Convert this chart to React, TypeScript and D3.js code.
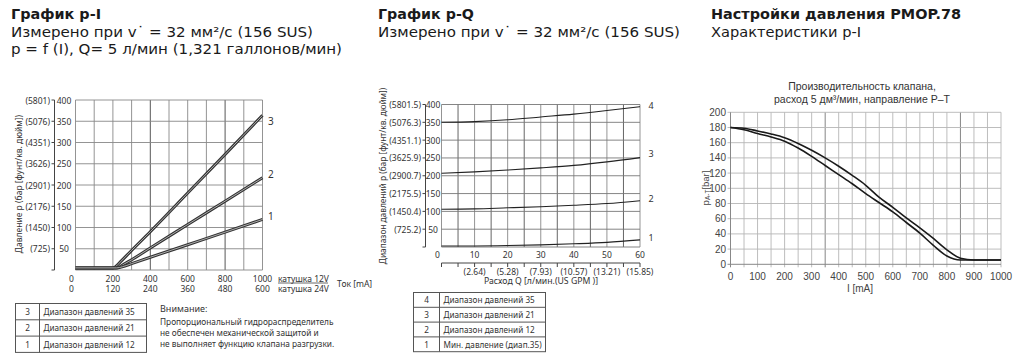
import * as d3 from 'd3';

// ---- chart 1: p-I (pressure vs current)
const piTicksX = [0, 200, 400, 600, 800, 1000];
const piTicksX24 = [0, 120, 240, 360, 480, 600];
const piTicksY = [50, 100, 150, 200, 250, 300, 350, 400];
const piTicksPsi = ['(725)', '(1450)', '(2176)', '(2901)', '(3626)', '(4351)', '(5076)', '(5801)'];
const piRange35: [number, number][] = [[0, 5], [200, 5], [215, 8], [240, 19], [300, 46], [400, 90], [600, 181], [800, 272], [1000, 364]];
const piRange21: [number, number][] = [[0, 5], [215, 5], [235, 7], [260, 14], [300, 24], [400, 52], [600, 107], [800, 162], [1000, 217]];
const piRange12: [number, number][] = [[0, 5], [220, 5], [250, 7.5], [300, 15], [400, 30], [600, 59.5], [800, 89], [1000, 119]];
const piLegend = [
	['3', 'Диапазон давлений 35'],
	['2', 'Диапазон давлений 21'],
	['1', 'Диапазон давлений 12'],
];

// ---- chart 2: p-Q (pressure vs flow)
const pqTicksX = [0, 10, 20, 30, 40, 50, 60];
const pqTicksGpm = ['(2.64)', '(5.28)', '(7.93)', '(10.57)', '(13.21)', '(15.85)'];
const pqTicksY = [50, 100, 150, 200, 250, 300, 350, 400];
const pqTicksPsi = ['(725.2)', '(1450.4)', '(2175.5)', '(2900.7)', '(3625.9)', '(4351.1)', '(5076.3)', '(5801.5)'];
const pqFlow = [0, 10, 20, 30, 40, 50, 60];
const pqCurve4 = [350, 352, 357, 365, 373, 383, 394];
const pqCurve3 = [207, 211, 216, 222, 229, 239, 251];
const pqCurve2 = [106, 107, 110, 113, 117, 122, 130];
const pqCurve1 = [3, 3, 4, 6, 9, 13, 20];
const pqLegend = [
	['4', 'Диапазон давлений 35'],
	['3', 'Диапазон давлений 21'],
	['2', 'Диапазон давлений 12'],
	['1', 'Мин. давление (диап.35)'],
];

// ---- chart 3: PMOP.78 p-I
const pmCurrent = [0, 50, 100, 150, 200, 250, 300, 350, 400, 450, 500, 550, 600, 650, 700, 750, 800, 850, 900, 950, 1000];
const pmUpper = [180, 179, 175.5, 171.5, 166.5, 159, 150, 140, 129, 117, 104, 88, 75, 61, 48, 34, 19, 8, 5.7, 5.7, 5.7];
const pmLower = [180, 177, 172, 167.5, 162, 153, 142, 130, 118, 106, 93, 81, 69, 55, 41, 25, 11, 5.7, 5.7, 5.7, 5.7];
const pmTicksX = [0, 100, 200, 300, 400, 500, 600, 700, 800, 900, 1000];
const pmTicksY = [0, 20, 40, 60, 80, 100, 120, 140, 160, 180, 200];

const labelFont = '"Noto Sans", sans-serif';
const headFont = '"DejaVu Sans", sans-serif';
const arialFont = '"Liberation Sans", Arial, sans-serif';

// header: [text, width in px]
function Header({ x, lines }: { x: number; lines: [string, number][] }) {
	return (
		<g fontFamily={headFont} fill="#1a1a1a">
			<text x={x} y={19} fontSize={14.5} fontWeight={700} textLength={lines[0][1]} lengthAdjust="spacingAndGlyphs">{lines[0][0]}</text>
			{lines.slice(1).map((t, i) => (
				<text key={i} x={x} y={37 + i * 17} fontSize={14} textLength={t[1]} lengthAdjust="spacingAndGlyphs">{t[0]}</text>
			))}
		</g>
	);
}

function DoubleLine({ d }: { d: string }) {
	return (
		<g fill="none">
			<path d={d} stroke="#333" strokeWidth={3} />
			<path d={d} stroke="#bbb" strokeWidth={0.9} />
		</g>
	);
}

function Legend({ x, y, w, rowH, divX, rows }: { x: number; y: number; w: number; rowH: number; divX: number; rows: string[][] }) {
	return (
		<g fontFamily={labelFont} fontSize={8.2} fill="#333">
			<rect x={x} y={y} width={w} height={rowH * rows.length} fill="none" stroke="#555" />
			<line x1={divX} x2={divX} y1={y} y2={y + rowH * rows.length} stroke="#555" />
			{rows.map((r, i) => (
				<g key={i}>
					{i > 0 && <line x1={x} x2={x + w} y1={y + rowH * i} y2={y + rowH * i} stroke="#555" />}
					<text x={(x + divX) / 2} y={y + rowH * i + rowH / 2} textAnchor="middle" dominantBaseline="central">{r[0]}</text>
					<text x={divX + 4} y={y + rowH * i + rowH / 2} dominantBaseline="central">{r[1]}</text>
				</g>
			))}
		</g>
	);
}

function ChartPI() {
	const x = d3.scaleLinear().domain([0, 1000]).range([75.5, 262.5]);
	const y = d3.scaleLinear().domain([0, 400]).range([270, 100]);
	const line = d3.line<[number, number]>().x((d) => x(d[0])).y((d) => y(d[1])).curve(d3.curveMonotoneX);
	const gridX = d3.range(0, 1001, 100);
	const spineX = 54.5;
	return (
		<g fontFamily={labelFont} fill="#333">
			{/* grid */}
			{gridX.map((v) => (
				<line key={v} x1={x(v)} x2={x(v)} y1={y(0)} y2={y(400)} stroke={v % 400 === 0 && v > 0 ? '#444' : '#888'} strokeWidth={0.9} />
			))}
			{[0, ...piTicksY].map((v) => (
				<line key={v} x1={x(0)} x2={x(1000)} y1={y(v)} y2={y(v)} stroke="#888" strokeWidth={0.9} />
			))}
			{/* left axis */}
			<line x1={spineX} x2={spineX} y1={y(400)} y2={y(0)} stroke="#444" />
			{[0, ...piTicksY].map((v) => (
				<line key={v} x1={spineX - 3} x2={spineX} y1={y(v)} y2={y(v)} stroke="#444" />
			))}
			{piTicksY.map((v, i) => (
				<g key={v} fontSize={8.5}>
					<text x={64} y={y(v)} textAnchor="middle" dominantBaseline="central">{v}</text>
					<text x={50} y={y(v)} textAnchor="end" dominantBaseline="central">{piTicksPsi[i]}</text>
				</g>
			))}
			<text transform={`translate(18, ${y(200) - 1}) rotate(-90)`} textAnchor="middle" dominantBaseline="central" fontSize={8.5}>
				Давление p (бар [фунт/кв. дюйм])
			</text>
			{/* bottom labels */}
			{piTicksX.map((v, i) => (
				<g key={v} fontSize={8.5}>
					<text x={x(v) - (v === 0 ? 4 : 0)} y={278} textAnchor="middle" dominantBaseline="central">{v}</text>
					<text x={x(v) - (v === 0 ? 4 : 0)} y={288} textAnchor="middle" dominantBaseline="central">{piTicksX24[i]}</text>
				</g>
			))}
			<text x={278} y={278} fontSize={8.5} dominantBaseline="central">катушка 12V</text>
			<line x1={278} x2={328} y1={283} y2={283} stroke="#444" strokeWidth={0.8} />
			<text x={278} y={288} fontSize={8.5} dominantBaseline="central">катушка 24V</text>
			<text x={337} y={283} fontSize={8.5} dominantBaseline="central">Ток [mA]</text>
			{/* curves */}
			<DoubleLine d={line(piRange35)!} />
			<DoubleLine d={line(piRange21)!} />
			<DoubleLine d={line(piRange12)!} />
			<g fontSize={10}>
				<text x={268} y={y(piRange35.at(-1)![1]) + 6} dominantBaseline="central">3</text>
				<text x={268} y={y(piRange21.at(-1)![1]) - 4} dominantBaseline="central">2</text>
				<text x={268} y={y(piRange12.at(-1)![1]) - 3} dominantBaseline="central">1</text>
			</g>
			<Legend x={15.5} y={303.5} w={131} rowH={16.3} divX={39.5} rows={piLegend} />
			<g fontSize={8.3}>
				<text x={160} y={312} fontSize={9}>Внимание:</text>
				<text x={160} y={325}>Пропорциональный гидрораспределитель</text>
				<text x={160} y={336}>не обеспечен механической защитой и</text>
				<text x={160} y={347}>не выполняет функцию клапана разгрузки.</text>
			</g>
		</g>
	);
}

function ChartPQ() {
	const x = d3.scaleLinear().domain([0, 60]).range([441.5, 640]);
	const y = d3.scaleLinear().domain([0, 400]).range([247, 104.5]);
	const line = d3.line<number>().x((_, i) => x(pqFlow[i])).y((d) => y(d)).curve(d3.curveMonotoneX);
	const gridX = d3.range(0, 61, 5);
	const spineX = 425.5;
	const axis2Y = 263;
	return (
		<g fontFamily={labelFont} fill="#333">
			{gridX.map((v) => (
				<line key={v} x1={x(v)} x2={x(v)} y1={y(0)} y2={y(400)} stroke={v % 10 === 5 ? '#555' : '#888'} strokeWidth={0.9} />
			))}
			{[0, ...pqTicksY].map((v) => (
				<line key={v} x1={x(0)} x2={x(60)} y1={y(v)} y2={y(v)} stroke="#777" strokeWidth={0.9} />
			))}
			<line x1={spineX} x2={spineX} y1={y(400)} y2={y(0)} stroke="#444" />
			{[0, ...pqTicksY].map((v) => (
				<line key={v} x1={spineX - 3} x2={spineX} y1={y(v)} y2={y(v)} stroke="#444" />
			))}
			{pqTicksY.map((v, i) => (
				<g key={v} fontSize={8.5}>
					<text x={433} y={y(v)} textAnchor="middle" dominantBaseline="central">{v}</text>
					<text x={421} y={y(v)} textAnchor="end" dominantBaseline="central">{pqTicksPsi[i]}</text>
				</g>
			))}
			<text transform={`translate(382, ${176}) rotate(-90)`} textAnchor="middle" dominantBaseline="central" fontSize={8.3}>
				Диапазон давлений p (бар [фунт/кв. дюйм])
			</text>
			{pqTicksX.map((v) => (
				<text key={v} x={x(v) - (v === 0 ? 4 : 0)} y={254} fontSize={8.5} textAnchor="middle" dominantBaseline="central">{v}</text>
			))}
			<line x1={x(0)} x2={x(60)} y1={axis2Y} y2={axis2Y} stroke="#444" />
			{gridX.map((v) => (
				<line key={v} x1={x(v)} x2={x(v)} y1={axis2Y} y2={axis2Y + 4} stroke="#444" />
			))}
			{pqTicksGpm.map((t, i) => (
				<text key={t} x={x((i + 1) * 10)} y={271.5} fontSize={8.5} textAnchor="middle" dominantBaseline="central">{t}</text>
			))}
			<text x={541} y={281} fontSize={8.7} textAnchor="middle" dominantBaseline="central">Расход Q [л/мин.(US GPM )]</text>
			{[pqCurve4, pqCurve3, pqCurve2, pqCurve1].map((c, i) => (
				<path key={i} d={line(c)!} fill="none" stroke="#222" strokeWidth={1.1} />
			))}
			<g fontSize={9}>
				<text x={651} y={105} textAnchor="middle" dominantBaseline="central">4</text>
				<text x={651} y={153} textAnchor="middle" dominantBaseline="central">3</text>
				<text x={651} y={198} textAnchor="middle" dominantBaseline="central">2</text>
				<text x={651} y={237} textAnchor="middle" dominantBaseline="central">1</text>
			</g>
			<Legend x={413.5} y={292.5} w={132} rowH={14.8} divX={439.5} rows={pqLegend} />
		</g>
	);
}

function ChartPMOP() {
	const x = d3.scaleLinear().domain([0, 1000]).range([730.5, 1001]);
	const y = d3.scaleLinear().domain([0, 200]).range([264.3, 112.3]);
	const line = d3.line<number>().x((_, i) => x(pmCurrent[i])).y((d) => y(d)).curve(d3.curveMonotoneX);
	const gridX = d3.range(50, 1001, 50);
	return (
		<g fontFamily={arialFont} fill="#444">
			<text x={862} y={89.5} fontSize={10.5} textAnchor="middle" fill="#333">Производительность клапана,</text>
			<text x={862} y={103} fontSize={10.5} textAnchor="middle" fill="#333">расход 5 дм³/мин, направление P–T</text>
			{gridX.map((v) => (
				<line key={v} x1={x(v)} x2={x(v)} y1={y(200)} y2={y(0) + 3} stroke={v === 350 || v === 850 ? '#777' : '#b5b5b5'} strokeWidth={0.9} />
			))}
			{pmTicksY.slice(1).map((v) => (
				<line key={v} x1={x(0) - 3} x2={x(1000)} y1={y(v)} y2={y(v)} stroke="#b5b5b5" strokeWidth={0.9} />
			))}
			<line x1={x(0)} x2={x(0)} y1={y(200)} y2={y(0) + 3} stroke="#888" />
			<line x1={x(0) - 3} x2={x(1000)} y1={y(0)} y2={y(0)} stroke="#888" />
			{pmTicksY.map((v) => (
				<text key={v} x={726} y={y(v)} fontSize={10} textAnchor="end" dominantBaseline="central">{v}</text>
			))}
			{pmTicksX.map((v) => (
				<text key={v} x={x(v)} y={276.5} fontSize={10} textAnchor="middle" dominantBaseline="central">{v}</text>
			))}
			<text x={860} y={288} fontSize={10} textAnchor="middle" dominantBaseline="central">I [mA]</text>
			<text transform={`translate(705, 188) rotate(-90)`} fontSize={9.5} textAnchor="middle" dominantBaseline="central">
				p<tspan fontSize={6.5} dy={2}>A-T</tspan><tspan dy={-2}>[bar]</tspan>
			</text>
			<path d={line(pmUpper)!} fill="none" stroke="#1a1a1a" strokeWidth={1.6} />
			<path d={line(pmLower)!} fill="none" stroke="#1a1a1a" strokeWidth={1.6} />
		</g>
	);
}

export default function App() {
	return (
		<svg width={1024} height={362} viewBox="0 0 1024 362" style={{ position: 'absolute', left: 0, top: 0, background: '#fff' }}>
			<rect width={1024} height={362} fill="#fff" />
			<Header x={11} lines={[['График p-I', 90], ['Измерено при v˙ = 32 мм²/с (156 SUS)', 302], ['p = f (I), Q= 5 л/мин (1,321 галлонов/мин)', 331]]} />
			<Header x={378} lines={[['График p-Q', 96], ['Измерено при v˙ = 32 мм²/с (156 SUS)', 302]]} />
			<Header x={711} lines={[['Настройки давления PMOP.78', 250], ['Характеристики p-I', 150]]} />
			<ChartPI />
			<ChartPQ />
			<ChartPMOP />
		</svg>
	);
}
